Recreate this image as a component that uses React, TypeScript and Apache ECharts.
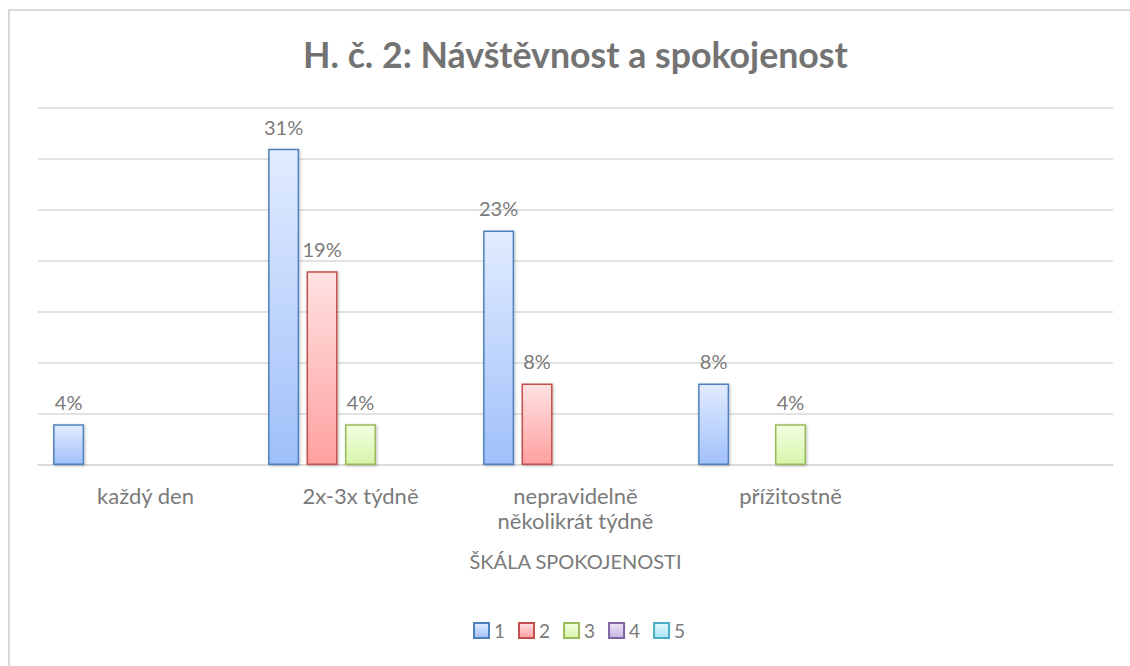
import React, { useEffect, useRef } from "react";
import * as echarts from "echarts";

const categories = ["každý den", "2x-3x týdně", "nepravidelně\nněkolikrát týdně", "přížitostně", ""];
const seriesNames = ["1", "2", "3", "4", "5"];
const values1 = [4, 31, 23, 8, null];
const values2 = [null, 19, 8, null, null];
const values3 = [null, 4, null, 4, null];
const values4 = [null, null, null, null, null];
const values5 = [null, null, null, null, null];
const allValues = [values1, values2, values3, values4, values5];

const borders = ["#4f81bd", "#c0504d", "#9bbb59", "#8064a2", "#4bacc6"];
const topFill = ["#e2ecff", "#ffe2e2", "#f4ffe3", "#ede4f7", "#e1f8ff"];
const bottomFill = ["#a0c0fa", "#ffa0a0", "#d6f5a9", "#c9b6e4", "#a9e4f5"];

const FONT = "Lato, 'Open Sans', sans-serif";
const TITLE_GRAY = "#737373";
const GRAY = "#7a7a7a";

export default function App() {
  const ref = useRef<HTMLDivElement>(null);
  useEffect(() => {
    if (!ref.current) return;
    const chart = echarts.init(ref.current, null, { renderer: "svg" });
    const series = allValues.map((vals, i) => ({
      name: seriesNames[i],
      type: "bar",
      data: vals.map((v) => (v === null ? "-" : v)),
      barWidth: 31,
      barGap: "24%",
      itemStyle: {
        color: new echarts.graphic.LinearGradient(0, 0, 0, 1, [
          { offset: 0, color: topFill[i] },
          { offset: 1, color: bottomFill[i] },
        ]),
        borderColor: borders[i],
        borderWidth: 1.5,
        shadowBlur: 3,
        shadowColor: "rgba(0,0,0,0.25)",
        shadowOffsetX: 1,
        shadowOffsetY: 1,
      },
      label: {
        show: true,
        position: "top",
        distance: 12,
        formatter: "{c}%",
        color: GRAY,
        fontSize: 20,
        fontFamily: FONT,
      },
    }));
    chart.setOption({
      animation: false,
      backgroundColor: "#ffffff",
      title: {
        text: "H. č. 2: Návštěvnost a spokojenost",
        left: 298,
        top: 31,
        padding: 5,
        textStyle: { color: TITLE_GRAY, fontSize: 35.7, fontWeight: "bold", fontFamily: FONT },
      },
      graphic: [
        {
          type: "rect",
          shape: { x: 9, y: 10, width: 1200, height: 700 },
          style: { fill: "none", stroke: "#d9d9d9", lineWidth: 2 },
          silent: true,
        },
      ],
      grid: { left: 38, right: 17, top: 108, bottom: 201 },
      legend: {
        bottom: 21,
        left: 468,
        itemWidth: 15,
        itemHeight: 15,
        itemGap: 13,
        icon: "rect",
        textStyle: { color: GRAY, fontSize: 19, fontFamily: FONT },
        data: seriesNames,
      },
      xAxis: {
        type: "category",
        data: categories,
        name: "ŠKÁLA SPOKOJENOSTI",
        nameLocation: "middle",
        nameGap: 86,
        nameTextStyle: {
          color: GRAY,
          fontSize: 20,
          fontFamily: FONT,
          verticalAlign: "top",
        },
        axisLine: { lineStyle: { color: "#d9d9d9", width: 1.5 } },
        axisTick: { show: false },
        axisLabel: {
          color: GRAY,
          fontSize: 22,
          fontFamily: FONT,
          margin: 18,
          lineHeight: 25,
          interval: 0,
        },
      },
      yAxis: {
        type: "value",
        min: 0,
        max: 35,
        interval: 5,
        axisLabel: { show: false },
        axisLine: { show: false },
        axisTick: { show: false },
        splitLine: { lineStyle: { color: "#d9d9d9", width: 1.5 } },
      },
      series,
    });
    return () => chart.dispose();
  }, []);
  return (
    <div
      ref={ref}
      style={{ position: "fixed", left: 0, top: 0, width: 1130, height: 666 }}
    />
  );
}
